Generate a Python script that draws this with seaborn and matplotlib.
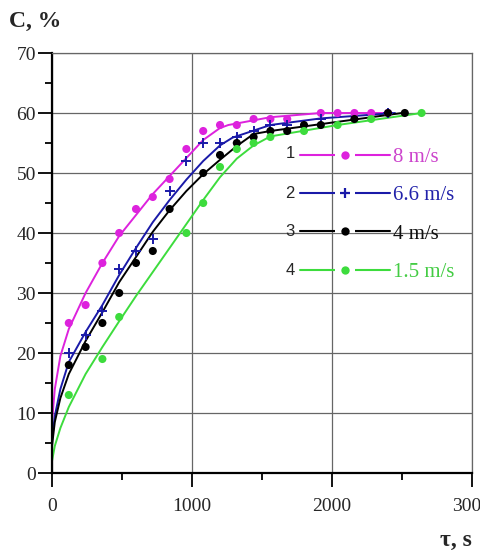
#import packages
import pandas as pd
import matplotlib.pyplot as plt
import seaborn as sns
from matplotlib.lines import Line2D
from matplotlib.ticker import MultipleLocator

#measured points (time in s, concentration in %)
t_8 = [120, 240, 360, 480, 600, 720, 840, 960, 1080, 1200, 1320, 1440, 1560, 1680, 1920, 2040, 2160, 2280, 2400]
c_8 = [25, 28, 35, 40, 44, 46, 49, 54, 57, 58, 58, 59, 59, 59, 60, 60, 60, 60, 60]

t_66 = [120, 240, 360, 480, 600, 720, 840, 960, 1080, 1200, 1320, 1440, 1560, 1680, 1920, 2400]
c_66 = [20, 23, 27, 34, 37, 39, 47, 52, 55, 55, 56, 57, 58, 58, 59, 60]

t_4 = [120, 240, 360, 480, 600, 720, 840, 1080, 1200, 1320, 1440, 1560, 1680, 1800, 1920, 2160, 2400, 2520]
c_4 = [18, 21, 25, 30, 35, 37, 44, 50, 53, 55, 56, 57, 57, 58, 58, 59, 60, 60]

t_15 = [120, 360, 480, 960, 1080, 1200, 1320, 1440, 1560, 1800, 2040, 2280, 2640]
c_15 = [13, 19, 26, 40, 45, 51, 54, 55, 56, 57, 58, 59, 60]

#fitted curves
ft_8 = [0, 20, 60, 120, 240, 360, 480, 600, 720, 840, 960, 1080, 1200, 1260, 1560, 1920, 2400]
fc_8 = [8.5, 14, 19.5, 24, 30, 35, 39.5, 43, 46.5, 49.5, 52.5, 55.5, 57.5, 58, 59.3, 60, 60]

ft_66 = [0, 20, 60, 120, 240, 360, 480, 600, 720, 840, 960, 1080, 1200, 1290, 1560, 1920, 2450]
fc_66 = [5.5, 9.5, 14, 18.5, 23.5, 28, 33, 37.5, 41.8, 45.5, 48.9, 52, 54.6, 55.9, 58, 59.1, 60]

ft_4 = [0, 20, 60, 120, 240, 360, 480, 600, 720, 840, 960, 1080, 1200, 1320, 1440, 1560, 2000, 2500]
fc_4 = [4.5, 8.5, 12.5, 16.5, 22, 26.8, 31.8, 36, 40.2, 43.8, 47, 49.8, 52.2, 54.5, 56.5, 57, 58.4, 60]

ft_15 = [0, 20, 60, 120, 240, 360, 480, 600, 720, 840, 960, 1080, 1200, 1320, 1440, 1560, 2040, 2640]
fc_15 = [2, 4.5, 7.5, 11, 16.5, 21, 25.3, 29.5, 33.5, 37.5, 41.5, 45.5, 49.3, 52.4, 54.6, 56.1, 58, 60]

labels = ["8 m/s", "6.6 m/s", "4 m/s", "1.5 m/s"]
numbers = ["1", "2", "3", "4"]
colors = ["#dd22dd", "#1a1aa8", "#000000", "#3ddc3d"]
text_colors = ["#cc44cc", "#2222aa", "#111111", "#44cc44"]
markers = ["o", "+", "o", "o"]

sns.set_style("ticks")
plt.rcParams['font.family'] = ['Liberation Serif', 'DejaVu Serif']

fig = plt.figure(figsize=(4.8, 5.51), dpi=100)
ax = fig.add_axes([52/480, 78/551, 420/480, 420/551])

series = [(t_8, c_8, ft_8, fc_8), (t_66, c_66, ft_66, fc_66),
          (t_4, c_4, ft_4, fc_4), (t_15, c_15, ft_15, fc_15)]

#curves first, points on top
for (t, c, ft, fc), col, m in zip(series, colors, markers):
    sns.lineplot(x=ft, y=fc, color=col, lw=1.4, ax=ax, estimator=None)
for (t, c, ft, fc), col, m in zip(series, colors, markers):
    if m == "+":
        sns.scatterplot(x=t, y=c, color=col, marker="+", s=45, linewidth=1.4, ax=ax, zorder=4)
    else:
        sns.scatterplot(x=t, y=c, color=col, marker="o", s=34, edgecolor="none", ax=ax, zorder=4)

ax.set_xlim(0, 3000)
ax.set_ylim(0, 70)
ax.xaxis.set_major_locator(MultipleLocator(1000))
ax.xaxis.set_minor_locator(MultipleLocator(500))
ax.yaxis.set_major_locator(MultipleLocator(10))
ax.yaxis.set_minor_locator(MultipleLocator(5))
ax.grid(which="major", color="#666666", lw=0.9)
ax.set_axisbelow(True)
ax.tick_params(which="major", direction="out", length=10, width=1.3, labelsize=14, color="black")
ax.tick_params(axis="y", which="major", pad=1.5)
ax.tick_params(axis="x", which="major", pad=8)
ax.tick_params(which="minor", direction="out", length=5, width=1.3, color="black")
ax.tick_params(top=False, right=False, which="both")
for s in ["left", "bottom"]:
    ax.spines[s].set_color("black")
    ax.spines[s].set_linewidth(1.6)
for s in ["top", "right"]:
    ax.spines[s].set_color("#666666")
    ax.spines[s].set_linewidth(0.9)
ax.set_xlabel("")
ax.set_ylabel("")

#legend with numbers in front, small gap in the line around each marker
handles = []
for col, m in zip(colors, markers):
    line = Line2D([], [], color=col, lw=1.5)
    gap = Line2D([], [], color="white", marker="_", markersize=14, markeredgewidth=3, linestyle="none")
    if m == "+":
        mark = Line2D([], [], color=col, marker="+", markersize=7, markeredgewidth=1.6, linestyle="none")
    else:
        mark = Line2D([], [], color=col, marker="o", markersize=6, markeredgecolor="none", linestyle="none")
    handles.append((line, gap, mark))
leg = ax.legend(handles, labels, loc="upper left", bbox_to_anchor=(0.547, 0.82), frameon=False,
                fontsize=15, handlelength=4.3, handletextpad=0.15, labelspacing=0.9, numpoints=1)
for txt, col in zip(leg.get_texts(), text_colors):
    txt.set_color(col)

num_y = [53.3, 46.6, 40.3, 33.8]
for n, y in zip(numbers, num_y):
    ax.text(0.567, y / 70, n, transform=ax.transAxes, fontsize=12, family=["Liberation Sans", "DejaVu Sans"],
            ha="center", va="center")

fig.text(9/480, 1 - 21/551, "C, %", fontsize=17, fontweight="bold", va="center", ha="left")
fig.text(440/480, 1 - 540/551, "τ, s", fontsize=17, fontweight="bold", va="center", ha="left")

plt.savefig("out.png", dpi=100)
